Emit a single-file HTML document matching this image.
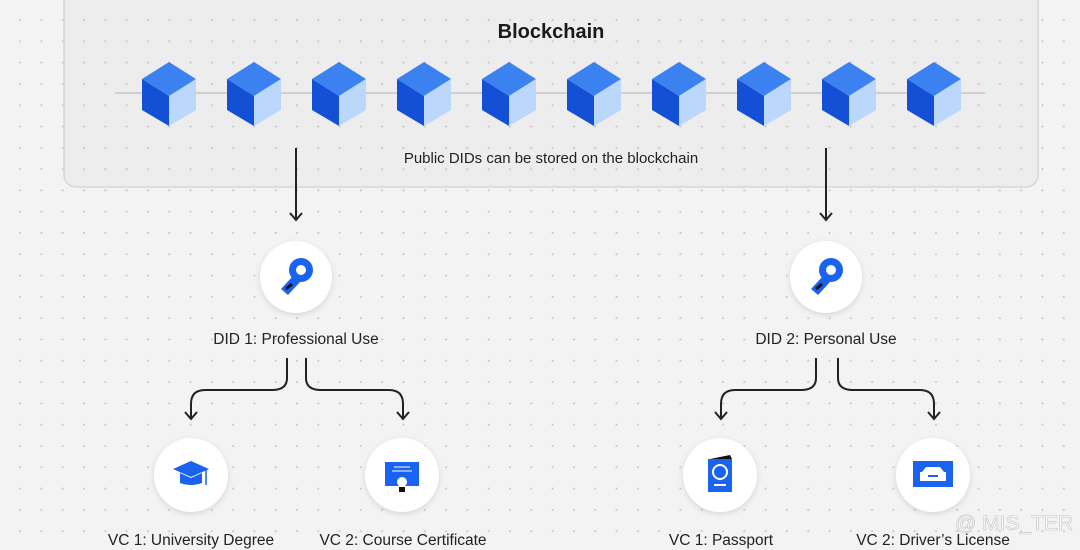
<!DOCTYPE html>
<html><head><meta charset="utf-8"><style>
html,body{margin:0;padding:0;background:#f3f3f3;}
svg{display:block;font-family:"Liberation Sans",Arial,sans-serif;}
</style></head><body>
<svg width="1080" height="550" viewBox="0 0 1080 550" xmlns="http://www.w3.org/2000/svg">
<defs>
<pattern id="dots2" x="0" y="0" width="21.3" height="21.3" patternUnits="userSpaceOnUse" patternTransform="translate(83,19)">
<circle cx="1" cy="1" r="1" fill="#c4c4c4"/>
</pattern>
<g id="cube">
<polygon points="0,-33 27,-16 0,1 -27,-16" fill="#3b82f0"/>
<polygon points="-27,-16 0,1 0,31 -27,15" fill="#1450d6"/>
<polygon points="27,-16 0,1 0,31 27,15" fill="#bcd7fc"/>
</g>
<filter id="sh" x="-30%" y="-30%" width="160%" height="160%"><feDropShadow dx="0" dy="2" stdDeviation="3" flood-color="#000" flood-opacity="0.12"/></filter>
<marker id="ah" markerWidth="14" markerHeight="12" refX="7" refY="10" orient="0" markerUnits="userSpaceOnUse">
<path d="M1,3 L7,10 L13,3" fill="none" stroke="#222" stroke-width="2"/>
</marker>
</defs>
<rect width="1080" height="550" fill="#f3f3f3"/>
<rect width="1080" height="550" fill="url(#dots2)"/>
<rect x="64" y="-10" width="974" height="197" rx="12" fill="#ededed" stroke="#d6d6d6" stroke-width="1.5"/>
<rect x="66" y="0" width="970" height="185" fill="url(#dots2)"/>
<text x="551" y="38" text-anchor="middle" font-size="20" font-weight="bold" fill="#1a1a1a">Blockchain</text>
<line x1="115" y1="93" x2="985" y2="93" stroke="#cfcfcf" stroke-width="2"/>
<g>
<use href="#cube" x="169" y="95"/><use href="#cube" x="254" y="95"/><use href="#cube" x="339" y="95"/><use href="#cube" x="424" y="95"/><use href="#cube" x="509" y="95"/>
<use href="#cube" x="594" y="95"/><use href="#cube" x="679" y="95"/><use href="#cube" x="764" y="95"/><use href="#cube" x="849" y="95"/><use href="#cube" x="934" y="95"/>
</g>
<text x="551" y="163" text-anchor="middle" font-size="15" fill="#222">Public DIDs can be stored on the blockchain</text>

<line x1="296" y1="148" x2="296" y2="220" stroke="#222" stroke-width="2" marker-end="url(#ah)"/>
<line x1="826" y1="148" x2="826" y2="220" stroke="#222" stroke-width="2" marker-end="url(#ah)"/>

<g filter="url(#sh)">
<circle cx="296" cy="277" r="36" fill="#fff"/>
<circle cx="826" cy="277" r="36" fill="#fff"/>
<circle cx="191" cy="475" r="37" fill="#fff"/>
<circle cx="402" cy="475" r="37" fill="#fff"/>
<circle cx="720" cy="475" r="37" fill="#fff"/>
<circle cx="933" cy="475" r="37" fill="#fff"/>
</g>
<g fill="#1a62f0">
<g transform="translate(296,277)"><circle cx="5" cy="-7" r="12"/><circle cx="5" cy="-7" r="5" fill="#fff"/><polygon points="-3,-1 4,5 -8,18 -15,12"/><line x1="-10" y1="12" x2="-4" y2="7" stroke="#111" stroke-width="3"/></g>
<g transform="translate(826,277)"><circle cx="5" cy="-7" r="12"/><circle cx="5" cy="-7" r="5" fill="#fff"/><polygon points="-3,-1 4,5 -8,18 -15,12"/><line x1="-10" y1="12" x2="-4" y2="7" stroke="#111" stroke-width="3"/></g>
</g>
<text x="296" y="344" text-anchor="middle" font-size="15.5" fill="#222">DID 1: Professional Use</text>
<text x="826" y="344" text-anchor="middle" font-size="15.5" fill="#222">DID 2: Personal Use</text>

<g fill="none" stroke="#222" stroke-width="2">
<path d="M287,358 V378 Q287,390 272,390 H205 Q191,390 191,404 V419" marker-end="url(#ah)"/>
<path d="M306,358 V378 Q306,390 321,390 H389 Q403,390 403,404 V419" marker-end="url(#ah)"/>
<path d="M816,358 V378 Q816,390 801,390 H735 Q721,390 721,404 V419" marker-end="url(#ah)"/>
<path d="M838,358 V378 Q838,390 853,390 H920 Q934,390 934,404 V419" marker-end="url(#ah)"/>
</g>

<g transform="translate(191,475)" fill="#1a62f0">
<polygon points="-18,-6 0,-14 18,-6 0,2"/>
<path d="M-11,-2 V8 Q0,12 11,8 V-2 L0,3 Z"/>
<line x1="15" y1="-5" x2="15" y2="10" stroke="#1a62f0" stroke-width="1.5"/>
</g>
<g transform="translate(402,475)">
<rect x="-17" y="-13" width="34" height="24" fill="#1a62f0"/>
<line x1="-8" y1="-8" x2="8" y2="-8" stroke="#fff" stroke-width="1"/>
<line x1="-10" y1="-4" x2="10" y2="-4" stroke="#fff" stroke-width="1"/>
<circle cx="0" cy="7" r="5" fill="#fff"/>
<rect x="-3" y="12" width="6" height="5" fill="#111"/>
</g>
<g transform="translate(720,475)">
<rect x="-12" y="-16" width="24" height="33" fill="#1a62f0"/>
<polygon points="-10,-16 10,-20 12,-16" fill="#111"/>
<circle cx="0" cy="-3" r="7" fill="none" stroke="#fff" stroke-width="2"/>
<line x1="-6" y1="10" x2="6" y2="10" stroke="#fff" stroke-width="2"/>
</g>
<g transform="translate(933,475)">
<rect x="-20" y="-14" width="40" height="26" fill="#1a62f0"/>
<path d="M-11,-3 L-7,-8 H7 L11,-3 H13 V6 H-13 V-3 Z" fill="#fff"/>
<rect x="-5" y="0" width="10" height="2" fill="#1a62f0"/>
</g>

<text x="191" y="545" text-anchor="middle" font-size="15.5" fill="#222">VC 1: University Degree</text>
<text x="403" y="545" text-anchor="middle" font-size="15.5" fill="#222">VC 2: Course Certificate</text>
<text x="721" y="545" text-anchor="middle" font-size="15.5" fill="#222">VC 1: Passport</text>
<text x="933" y="545" text-anchor="middle" font-size="15.5" fill="#222">VC 2: Driver’s License</text>
<text x="955" y="530" font-size="21" fill="#ffffff" stroke="#bbb" stroke-width="0.6" opacity="0.9">@ MIS_TER</text>
</svg>
</body></html>
